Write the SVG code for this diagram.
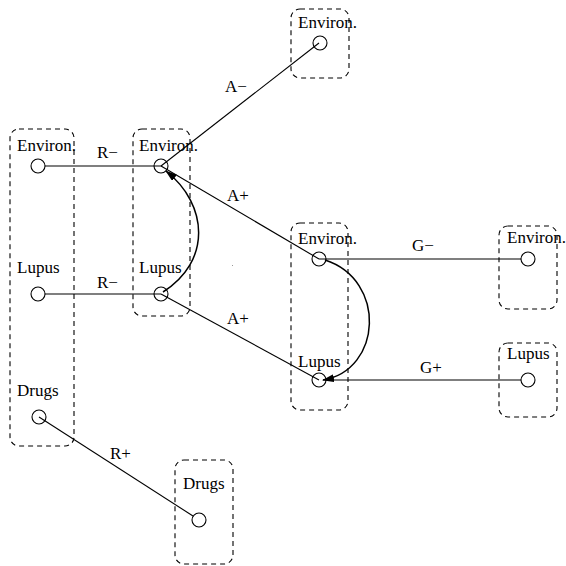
<svg xmlns="http://www.w3.org/2000/svg" width="566" height="566" viewBox="0 0 566 566">
<style>
.box{fill:none;stroke:#000;stroke-width:1.1;stroke-dasharray:5,4}
.nd{fill:none;stroke:#000;stroke-width:1.1}
.ln{fill:none;stroke:#000;stroke-width:1.1}
.cv{fill:none;stroke:#000;stroke-width:1.5}
text{font-family:"Liberation Serif","Times New Roman",serif;font-size:17px;fill:#000}
</style>
<defs>
<marker id="ah" markerWidth="12" markerHeight="8" refX="11" refY="4" orient="auto" markerUnits="userSpaceOnUse">
<path d="M0,0 L12,4 L0,8 Z" fill="#000"/>
</marker>
</defs>
<g id="boxes">
<rect class="box" x="10" y="129" width="64" height="317" rx="9"/>
<rect class="box" x="133" y="129" width="57" height="187" rx="9"/>
<rect class="box" x="291" y="9" width="58" height="69" rx="9"/>
<rect class="box" x="291" y="223" width="57" height="187" rx="9"/>
<rect class="box" x="499" y="226" width="58" height="83" rx="9"/>
<rect class="box" x="499" y="343" width="58" height="74" rx="9"/>
<rect class="box" x="175" y="460" width="58" height="104" rx="9"/>
</g>
<g id="connectors">
<line class="ln" x1="45" y1="166" x2="161" y2="166"/>
<line class="ln" x1="45" y1="294" x2="161" y2="294"/>
<line class="ln" x1="161" y1="166" x2="319" y2="43"/>
<line class="ln" x1="319" y1="259" x2="161" y2="166"/>
<line class="ln" x1="161" y1="294" x2="319" y2="380"/>
<line class="ln" x1="319" y1="259" x2="521" y2="259"/>
<line class="ln" x1="325" y1="380" x2="521" y2="380"/>
<line class="ln" x1="39" y1="417" x2="193" y2="516"/>
<path class="cv" d="M163,292 C211,262 209,205 166,171" marker-end="url(#ah)"/>
<path class="cv" d="M325,260 C387,280 382,370 323,380" marker-end="url(#ah)"/>
<text x="97" y="158">R−</text>
<text x="97" y="288">R−</text>
<text x="225" y="92">A−</text>
<text x="227" y="201">A+</text>
<text x="227" y="324">A+</text>
<text x="412" y="251">G−</text>
<text x="420" y="373">G+</text>
<text x="110" y="459">R+</text>
</g>
<g id="n-left-environ"><circle class="nd" cx="38" cy="166" r="7"/><text x="17" y="151">Environ.</text></g>
<g id="n-left-lupus"><circle class="nd" cx="38" cy="294" r="7"/><text x="17" y="273">Lupus</text></g>
<g id="n-left-drugs"><circle class="nd" cx="39" cy="417" r="7"/><text x="17" y="396">Drugs</text></g>
<g id="n-2-environ"><circle class="nd" cx="161" cy="166" r="7"/><text x="139" y="151">Environ.</text></g>
<g id="n-2-lupus"><circle class="nd" cx="161" cy="294" r="7"/><text x="139" y="273">Lupus</text></g>
<g id="n-top-environ"><circle class="nd" cx="320" cy="43" r="7"/><text x="298" y="28">Environ.</text></g>
<g id="n-mid-environ"><circle class="nd" cx="319" cy="259" r="7"/><text x="298" y="244">Environ.</text></g>
<g id="n-mid-lupus"><circle class="nd" cx="319" cy="380" r="7"/><text x="298" y="367">Lupus</text></g>
<g id="n-right-environ"><circle class="nd" cx="528" cy="259" r="7"/><text x="507" y="243">Environ.</text></g>
<g id="n-right-lupus"><circle class="nd" cx="528" cy="380" r="7"/><text x="507" y="359">Lupus</text></g>
<g id="n-bottom-drugs"><circle class="nd" cx="199" cy="520" r="7"/><text x="183" y="489">Drugs</text></g>
<rect x="232" y="265" width="1" height="1" fill="#999"/>
</svg>
